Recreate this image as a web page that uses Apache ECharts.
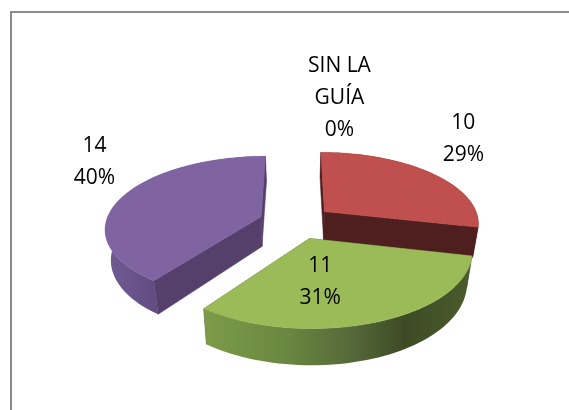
<!DOCTYPE html>
<html>
<head>
<meta charset="utf-8">
<script src="https://cdn.jsdelivr.net/npm/echarts@6/dist/echarts.min.js"></script>
<style>
  html, body { margin: 0; padding: 0; background: #fff; }
  #main { width: 569px; height: 410px; }
</style>
</head>
<body>
<div id="main"></div>
<script>
// datos del gráfico
const categories = ['SIN LA GUÍA', '10', '11', '14']
const values = [0, 10, 11, 14]

// colores (paleta Office 2007)
const topColors = ['#4F81BD', '#C0504D', '#9BBB59', '#8064A2']
const sideColors = ['#2B4566', '#4F1E1E', '#4F6230', '#553F6B']
const wallStops = [
  [[0, '#3E6594'], [1, '#2E4B6E']],
  [[0, '#5A2323'], [1, '#4A1C1C']],
  [[0, '#7D9B4A'], [0.3, '#6B8840'], [0.55, '#55693A'], [0.75, '#3D4B24'], [1, '#4B5C2D']],
  [[0, '#715C95'], [0.35, '#5F4B7F'], [1, '#5F4B7F']]
]

// geometría de la tarta 3D (perspectiva simple)
const CX = 296, CY = 222, RX = 155, RY = 71, H = 30
const P = 0.15 // perspectiva
const EXPLODE = 0.24
const BOTTOM_SHRINK = 0.97
const FONT_SIZE = 21, LINE_H = 32, FONT = 'Open Sans'

const total = values.reduce((a, b) => a + b, 0)

const ctx = document.createElement('canvas').getContext('2d')
ctx.font = FONT_SIZE + 'px "' + FONT + '"'
const measure = s => ctx.measureText(s).width

function wrapText(str, maxW) {
  const words = str.split(' ')
  const lines = []
  let cur = ''
  words.forEach(w => {
    const test = cur ? cur + ' ' + w : w
    if (cur && measure(test) > maxW) {
      lines.push(cur)
      cur = w
    } else {
      cur = test
    }
  })
  lines.push(cur)
  return lines
}

function project(u, v, bottom) {
  const s = 1 / (1 - P * v)
  if (!bottom) return [CX + RX * u * s, CY + RY * v * s]
  return [CX + RX * u * s * BOTTOM_SHRINK, CY + RY * v * s + H * s]
}

function sliceAngles(i) {
  let before = 0
  for (let k = 0; k < i; k++) before += values[k]
  return [before / total * Math.PI * 2, (before + values[i]) / total * Math.PI * 2]
}

function renderSlice(params, api) {
  const i = params.dataIndex
  const v = api.value(0)
  const [a0, a1] = sliceAngles(i)
  const m = (a0 + a1) / 2
  const ou = EXPLODE * Math.sin(m)
  const ov = -EXPLODE * Math.cos(m)
  const pt = (th, r, bottom) => project(ou + r * Math.sin(th), ov - r * Math.cos(th), bottom)
  const children = []
  const base = (i + 1) * 10
  const apexT = pt(0, 0, false)

  if (v > 0) {
    const steps = Math.max(2, Math.ceil((a1 - a0) / (Math.PI / 90)))
    const arcTop = []
    const arcBot = []
    for (let k = 0; k <= steps; k++) {
      const th = a0 + (a1 - a0) * k / steps
      arcTop.push(pt(th, 1, false))
      arcBot.push(pt(th, 1, true))
    }
    const apexB = pt(0, 0, true)
    const camV = 1 / P
    const faces = [
      { th: a0, n: [-Math.cos(a0), -Math.sin(a0)] },
      { th: a1, n: [Math.cos(a1), Math.sin(a1)] }
    ].map(f => {
      const eu = ou + Math.sin(f.th) * 0.5
      const ev = ov - Math.cos(f.th) * 0.5
      return {
        vis: f.n[0] * (0 - eu) + f.n[1] * (camV - ev) > 0,
        pts: [apexT, pt(f.th, 1, false), pt(f.th, 1, true), apexB]
      }
    })
    const face = (pts, z) => ({
      type: 'polygon', z2: z, shape: { points: pts },
      style: { fill: sideColors[i], stroke: sideColors[i], lineWidth: 0.5 }
    })
    faces.filter(f => !f.vis).forEach(f => children.push(face(f.pts, base + 1)))
    children.push({
      type: 'polygon', z2: base + 2,
      shape: { points: arcTop.concat(arcBot.slice().reverse()) },
      style: {
        fill: new echarts.graphic.LinearGradient(0, 0, 1, 0,
          wallStops[i].map(s => ({ offset: s[0], color: s[1] })))
      }
    })
    faces.filter(f => f.vis).forEach(f => children.push(face(f.pts, base + 3)))
    children.push({
      type: 'polygon', z2: base + 4,
      shape: { points: [apexT].concat(arcTop) },
      style: { fill: topColors[i], stroke: topColors[i], lineWidth: 0.5 }
    })
  }

  // etiqueta: categoría + porcentaje
  const pct = Math.round(v / total * 100) + '%'
  const lines = wrapText(categories[i], 75).concat([pct])
  const w = Math.max.apply(null, lines.map(measure))
  const inside = Math.cos(m) < -0.7
  let x, y, va
  if (inside) {
    // bisectriz de los bordes proyectados, desde el vértice
    const e0 = pt(a0, 1, false), e1 = pt(a1, 1, false)
    const ang = th => Math.atan2(th[0] - apexT[0], -(th[1] - apexT[1]))
    let g0 = ang(e0), g1 = ang(e1)
    if (g1 < g0) g1 += Math.PI * 2
    const g = (g0 + g1) / 2
    const pm = pt(m, 1, false)
    const d = 0.42 * Math.hypot(pm[0] - apexT[0], pm[1] - apexT[1])
    x = apexT[0] + d * Math.sin(g)
    y = apexT[1] - d * Math.cos(g)
    va = 'middle'
  } else {
    const p = pt(m, 1, false)
    y = p[1] - 2
    va = 'bottom'
    x = Math.sin(m) >= -1e-6 ? p[0] + 12 + w / 2 : p[0] - 8 - w / 2
  }
  children.push({
    type: 'text', x: x, y: y, z2: 100,
    style: {
      text: lines.join('\n'), fontSize: FONT_SIZE, fontFamily: FONT,
      fill: '#000', align: 'center', verticalAlign: va, lineHeight: LINE_H
    }
  })

  return { type: 'group', children: children }
}

const chart = echarts.init(document.getElementById('main'))
chart.setOption({
  animation: false,
  backgroundColor: '#fff',
  graphic: [{
    type: 'polyline',
    shape: { points: [[11, 410], [11, 12], [569, 12]] },
    style: { stroke: '#8C8C8C', lineWidth: 2, fill: null }
  }],
  series: [{
    type: 'custom',
    coordinateSystem: 'none',
    silent: true,
    renderItem: renderSlice,
    data: values.map(v => [v])
  }]
})
</script>
</body>
</html>
